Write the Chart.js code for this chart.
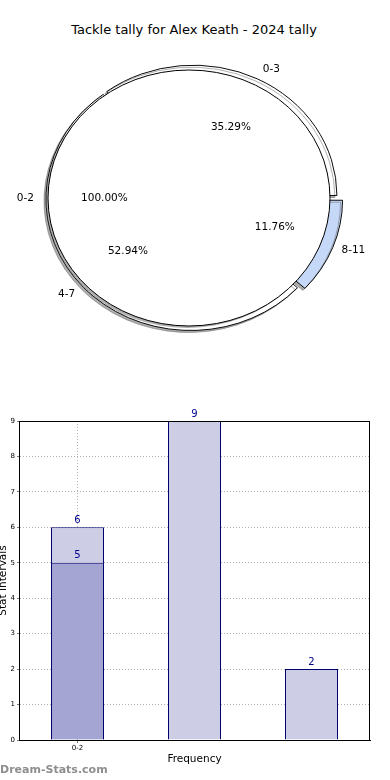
<!DOCTYPE html>
<html>
<head>
<meta charset="utf-8">
<script src="https://cdn.jsdelivr.net/npm/chart.js@4/dist/chart.umd.min.js"></script>
<style>
html,body{margin:0;padding:0;background:#fff;width:390px;height:780px;overflow:hidden;position:relative;font-family:"DejaVu Sans",sans-serif}
canvas{position:absolute}
#title{position:absolute;left:0;width:388px;top:21px;text-align:center;font-size:13px;line-height:18px;color:#000;white-space:nowrap}
#wm{position:absolute;left:0;top:762px;font-size:11px;line-height:16px;color:#8e8e8e;font-weight:bold;font-family:"DejaVu Sans",sans-serif}
</style>
</head>
<body>
<div id="title">Tackle tally for Alex Keath - 2024 tally</div>
<canvas id="pieBack" width="390" height="390" style="left:0;top:0;width:390px;height:390px"></canvas>
<canvas id="pieFront" width="390" height="390" style="left:0;top:0;width:390px;height:390px"></canvas>
<canvas id="bar" width="390" height="390" style="left:0;top:390px;width:390px;height:390px"></canvas>
<div id="wm">Dream-Stats.com</div>
<script>
// ---- data ----
const pieCategories = ['0-3', '4-7', '8-11'];
const pieValues = [6, 9, 2];
const outerCategories = ['0-2'];
const outerValues = [5];
const barTickLabels = ['0-2', '', ''];
const barSeriesLow = [5, null, null];
const barSeriesHigh = [6, 9, 2];
const yTickMax = 9;

// ---- helpers ----
const SY = 128 / 141; // vertical squash of the pie (ellipse)
const FONT = '"DejaVu Sans", sans-serif';

const ellipsePlugin = {
  id: 'ellipse',
  beforeDatasetsDraw(chart) {
    const a = chart.getDatasetMeta(0).data[0];
    const ctx = chart.ctx;
    ctx.save();
    ctx.translate(a.x, a.y);
    ctx.scale(1, SY);
    ctx.translate(-a.x, -a.y);
    ctx.shadowColor = 'rgba(77,77,77,0.45)';
    ctx.shadowOffsetX = -2;
    ctx.shadowOffsetY = 2;
    ctx.shadowBlur = 0;
  },
  afterDatasetsDraw(chart) {
    chart.ctx.restore();
  }
};

// outline for the full (100%) wedge, taken from the arc element geometry
const outlinePlugin = {
  id: 'outline',
  afterDatasetsDraw(chart) {
    const ctx = chart.ctx;
    const a = chart.getDatasetMeta(0).data[0];
    ctx.save();
    ctx.strokeStyle = '#000';
    ctx.lineWidth = 1;
    ctx.beginPath();
    ctx.ellipse(a.x, a.y, a.outerRadius, a.outerRadius * SY, 0, 0, Math.PI * 2);
    ctx.stroke();
    ctx.restore();
  }
};

function pct(values, i) {
  const t = values.reduce((s, v) => s + v, 0);
  return (values[i] / t * 100).toFixed(2) + '%';
}

function drawPieLabels(ctx, chart, labels, values) {
  const meta = chart.getDatasetMeta(0);
  meta.data.forEach((arc, i) => {
    const mid = (arc.startAngle + arc.endAngle) / 2;
    const R = arc.outerRadius;
    const shift = (arc.options.offset || 0) / 8;
    const c = Math.cos(mid), s = Math.sin(mid);
    const lx = arc.x + c * (1.1 * R + shift);
    const ly = arc.y + s * (1.1 * R + shift) * SY;
    ctx.textAlign = c >= 0 ? 'left' : 'right';
    ctx.fillText(labels[i], lx, ly);
    const px = arc.x + c * (0.6 * R + shift);
    const py = arc.y + s * (0.6 * R + shift) * SY;
    ctx.textAlign = 'center';
    ctx.fillText(pct(values, i), px, py);
  });
}

// back pie: Chart.js draws clockwise from east, so reverse the counter-clockwise order
const revCats = pieCategories.slice().reverse();
const revVals = pieValues.slice().reverse();

const backChart = new Chart(document.getElementById('pieBack'), {
  type: 'pie',
  data: {
    labels: revCats,
    datasets: [{
      data: revVals,
      backgroundColor: ['#c6d8f8', '#ffffff', '#ffffff'],
      borderColor: '#000000',
      borderWidth: 1,
      hoverBorderWidth: 1,
      offset: [24, 7, 12],
      hoverOffset: 0,
      radius: 143
    }]
  },
  options: {
    responsive: false,
    animation: false,
    events: [],
    rotation: 90,
    layout: { padding: { left: 0, right: 6, top: 6, bottom: 0 } },
    plugins: { legend: { display: false }, tooltip: { enabled: false } }
  },
  plugins: [ellipsePlugin]
});

const labelPlugin = {
  id: 'pieLabels',
  afterDraw(chart) {
    const ctx = chart.ctx;
    ctx.save();
    ctx.font = '10.5px ' + FONT;
    ctx.fillStyle = '#000';
    ctx.textBaseline = 'middle';
    drawPieLabels(ctx, chart, outerCategories, outerValues);
    drawPieLabels(ctx, backChart, revCats, revVals);
    ctx.restore();
  }
};

new Chart(document.getElementById('pieFront'), {
  type: 'pie',
  data: {
    labels: outerCategories,
    datasets: [{
      data: outerValues,
      backgroundColor: ['#ffffff'],
      borderWidth: 0,
      hoverBorderWidth: 0,
      offset: 0,
      hoverOffset: 0,
      radius: 141
    }]
  },
  options: {
    responsive: false,
    animation: false,
    events: [],
    rotation: 90,
    layout: { padding: { left: 0, right: 12, top: 6, bottom: 0 } },
    plugins: { legend: { display: false }, tooltip: { enabled: false } }
  },
  plugins: [ellipsePlugin, outlinePlugin, labelPlugin]
});

// ---- bar chart ----
const frameAndValues = {
  id: 'frameAndValues',
  afterDraw(chart) {
    const ctx = chart.ctx;
    const a = chart.chartArea;
    ctx.save();
    ctx.strokeStyle = '#000';
    ctx.lineWidth = 1;
    ctx.strokeRect(Math.round(a.left) + 0.5, Math.round(a.top) + 0.5, Math.round(a.right - a.left) - 1, Math.round(a.bottom - a.top));
    ctx.font = '10px ' + FONT;
    ctx.fillStyle = '#00008b';
    ctx.textAlign = 'center';
    ctx.textBaseline = 'bottom';
    chart.data.datasets.forEach((ds, di) => {
      const meta = chart.getDatasetMeta(di);
      meta.data.forEach((el, i) => {
        const v = ds.data[i];
        if (v === null || v === undefined) return;
        ctx.fillText(String(v), el.x, el.y - 2);
      });
    });
    ctx.restore();
  }
};

new Chart(document.getElementById('bar'), {
  type: 'bar',
  data: {
    labels: barTickLabels,
    datasets: [
      {
        data: barSeriesLow,
        backgroundColor: '#a5a5d3',
        borderColor: '#00006e',
        borderWidth: 1,
        grouped: false,
        barPercentage: 53 / 117,
        categoryPercentage: 1
      },
      {
        data: barSeriesHigh,
        backgroundColor: '#cdcde5',
        borderColor: '#00006e',
        borderWidth: 1,
        grouped: false,
        barPercentage: 53 / 117,
        categoryPercentage: 1
      }
    ]
  },
  options: {
    responsive: false,
    animation: false,
    events: [],
    layout: { padding: { left: 0, right: 20, top: 31, bottom: 0 } },
    plugins: { legend: { display: false }, tooltip: { enabled: false } },
    scales: {
      x: {
        offset: true,
        grid: {
          offset: false,
          color: (c) => (c.index === 0 ? '#b4b4b4' : 'rgba(0,0,0,0)'),
          tickColor: (c) => (c.index === 0 ? '#777' : 'rgba(0,0,0,0)'),
          lineWidth: 1,
          tickLength: 3
        },
        border: { display: true, color: '#000', width: 1, dash: [1, 2] },
        ticks: { font: { size: 7, family: FONT }, color: '#000', padding: 1 },
        title: {
          display: true,
          text: 'Frequency',
          font: { size: 10.5, family: FONT },
          color: '#000',
          padding: { top: 0, bottom: 14 }
        },
        afterFit(scale) { scale.height = 40; }
      },
      y: {
        min: 0,
        max: yTickMax,
        ticks: { stepSize: 1, font: { size: 7, family: FONT }, color: '#000', padding: 2 },
        grid: { color: '#b4b4b4', lineWidth: 1, tickLength: 2, tickColor: '#777' },
        border: { display: true, color: '#000', width: 1, dash: [1, 2] },
        title: {
          display: true,
          text: 'Stat Intervals',
          font: { size: 10.5, family: FONT },
          color: '#000',
          padding: { top: -3, bottom: 0 }
        },
        afterFit(scale) { scale.width = 19; }
      }
    }
  },
  plugins: [frameAndValues]
});
</script>
</body>
</html>
